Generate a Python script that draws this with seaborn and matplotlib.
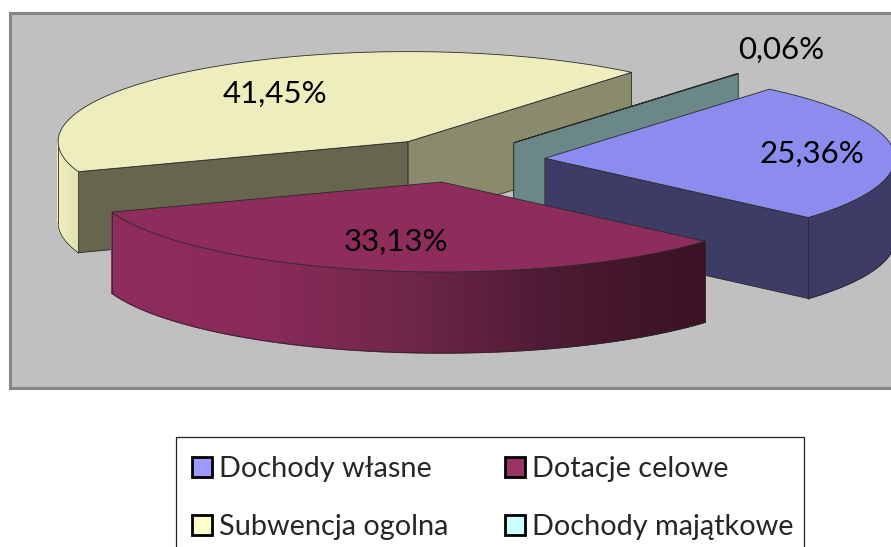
import numpy as np
import seaborn as sns
import matplotlib.pyplot as plt
from matplotlib.patches import Patch, Rectangle

categories = ['Dochody własne', 'Dotacje celowe', 'Subwencja ogolna', 'Dochody majątkowe']
values = [25.36, 33.13, 41.45, 0.06]
swatch_colors = ['#9999FF', '#993366', '#FFFFCC', '#CCFFFF']
top_colors = ['#8C8CEE', '#8E2C5C', '#EDEDBD', '#BDEDED']
rim_colors = [['#3C3C66', '#3C3C66'],
              ['#8E2C5C', '#8A2B59', '#6E2649', '#4C1A32', '#3A1222'],
              ['#EEEEBF', '#E0E0B2'],
              ['#6B8888', '#6B8888']]
# cut faces (start edge, end edge), None = hidden behind the slice
face_colors = [[None, '#3C3C66'],
               [None, None],
               ['#66664F', '#8A8A6D'],
               ['#6B8888', '#6B8888']]
label_pos = [(812, 154), (396, 242), (275, 94), (781, 50)]

sns.set_style('white')
plt.rcParams['font.family'] = ['Lato', 'DejaVu Sans']

# pie geometry in pixels
cx, cy = 458, 160
a, b = 350, 90
depth = 81
explode = 0.249
start_angle = 50.1
line = '#2A2A2A'

fig = plt.figure(figsize=(8.91, 5.47), dpi=100)
ax = fig.add_axes([0, 0, 1, 1])
ax.set_xlim(0, 891)
ax.set_ylim(547, 0)
ax.axis('off')

ax.add_patch(Rectangle((10, 13), 900, 375, facecolor='#C0C0C0', edgecolor='#868686', lw=2.2, zorder=0))

spans = np.array(values) / sum(values) * 360
starts = start_angle - np.concatenate([[0], np.cumsum(spans)[:-1]])
ends = starts - spans


def rim_xy(t, x0, y0):
    return x0 + a * np.cos(np.radians(t)), y0 - b * np.sin(np.radians(t))


# back to front
z = 1
for i in [2, 3, 0, 1]:
    mid = (starts[i] + ends[i]) / 2
    x0 = cx + explode * a * np.cos(np.radians(mid))
    y0 = cy - explode * b * np.sin(np.radians(mid))
    t = np.linspace(starts[i], ends[i], max(int(spans[i] * 3), 3))
    xs, ys = rim_xy(t, x0, y0)

    # cut faces
    for ang, col in zip([starts[i], ends[i]], face_colors[i]):
        if col is None:
            continue
        ex, ey = rim_xy(ang, x0, y0)
        ax.fill([x0, ex, ex, x0], [y0, ey, ey + depth, y0 + depth], facecolor=col,
                edgecolor=line, lw=0.6, zorder=z)

    # outer rim, only the part facing the viewer
    front = np.sin(np.radians(t)) <= 0
    fx, fy = xs[front], ys[front]
    if len(fx) > 1:
        pal = sns.blend_palette(rim_colors[i], 256)
        x_lo, x_hi = fx.min(), fx.max()
        for j in range(len(fx) - 1):
            c = pal[int((fx[j] - x_lo) / (x_hi - x_lo) * 255)]
            ax.fill([fx[j], fx[j + 1], fx[j + 1], fx[j]],
                    [fy[j], fy[j + 1], fy[j + 1] + depth, fy[j] + depth],
                    facecolor=c, edgecolor=c, lw=1.0, zorder=z)
        ax.plot(fx, fy + depth, color=line, lw=0.6, zorder=z)
        for k in [0, -1]:
            ax.plot([fx[k], fx[k]], [fy[k], fy[k] + depth], color=line, lw=0.6, zorder=z)

    # top surface
    ax.fill(np.r_[x0, xs], np.r_[y0, ys], facecolor=top_colors[i], edgecolor=line, lw=0.6, zorder=z + 0.5)
    z += 1

for v, (px, py) in zip(values, label_pos):
    ax.text(px, py, f'{v:.2f}%'.replace('.', ','), fontsize=22.5, color='black',
            ha='center', va='center', zorder=10)

# legend box runs off the bottom of the picture like in the original
ax.add_patch(Rectangle((176, 437), 628, 130, facecolor='white', edgecolor='#222222', lw=0.9, zorder=11))
handles = [Patch(facecolor=c, edgecolor='black', lw=2) for c in swatch_colors]
# matplotlib fills columns top to bottom
order = [0, 2, 1, 3]
leg = ax.legend([handles[i] for i in order], [categories[i] for i in order], ncol=2,
                loc='upper left', bbox_to_anchor=(176, 440), bbox_transform=ax.transData,
                fontsize=20.8, frameon=False,
                handlelength=0.7, handleheight=0.7, handletextpad=0.24, labelspacing=1.1,
                columnspacing=1.95, borderpad=0.56, borderaxespad=0)
leg.set_zorder(12)

fig.savefig('out.png', dpi=100)
